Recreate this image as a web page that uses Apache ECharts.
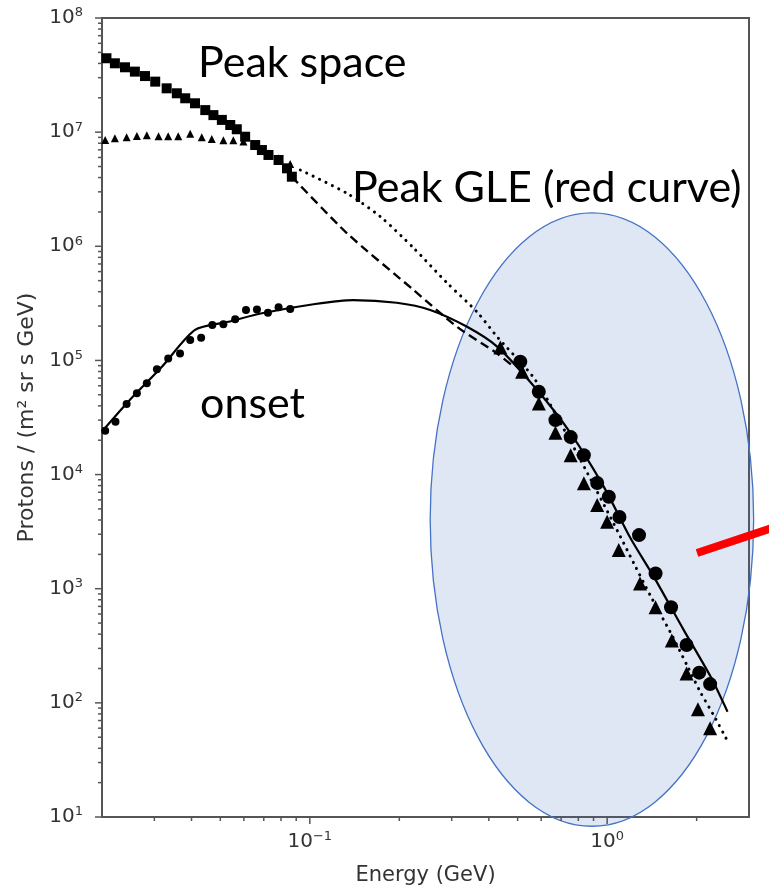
<!DOCTYPE html>
<html>
<head>
<meta charset="utf-8">
<title>Proton spectra</title>
<script src="https://cdn.jsdelivr.net/npm/echarts@6/dist/echarts.min.js"></script>
<style>
  html, body { margin: 0; padding: 0; background: #fff; }
  #chart { width: 769px; height: 894px; }
</style>
</head>
<body>
<div id="chart"></div>
<script>
// values: [energy (GeV), protons / (m2 sr s GeV)]
var peakSpaceSquares = [
  [0.0207, 4.44e7], [0.0221, 4.01e7], [0.0239, 3.70e7], [0.0258, 3.39e7],
  [0.0279, 3.10e7], [0.0302, 2.77e7], [0.0330, 2.42e7], [0.0357, 2.19e7],
  [0.0381, 1.98e7], [0.0411, 1.79e7], [0.0445, 1.56e7], [0.0474, 1.41e7],
  [0.0506, 1.28e7], [0.0540, 1.155e7], [0.0568, 1.06e7], [0.0606, 9.12e6],
  [0.0655, 7.71e6], [0.0690, 6.97e6], [0.0726, 6.31e6], [0.0785, 5.70e6],
  [0.0838, 4.82e6], [0.0870, 4.07e6]
];
var peakSpaceTriangles = [
  [0.0205, 8.53e6], [0.0221, 8.83e6], [0.0242, 9.0e6], [0.0262, 9.25e6],
  [0.0283, 9.37e6], [0.0310, 9.2e6], [0.0334, 9.2e6], [0.0361, 9.2e6],
  [0.0396, 9.7e6], [0.0433, 9.0e6], [0.0468, 8.7e6], [0.0512, 8.5e6],
  [0.0553, 8.5e6], [0.0598, 8.3e6], [0.0726, 6.5e6], [0.0785, 5.9e6],
  [0.0859, 5.26e6]
];
var onsetSpaceCircles = [
  [0.0205, 2.42e4], [0.0222, 2.9e4], [0.0242, 4.15e4], [0.0262, 5.15e4],
  [0.0283, 6.3e4], [0.0306, 8.36e4], [0.0334, 1.04e5], [0.0366, 1.15e5],
  [0.0396, 1.51e5], [0.0431, 1.58e5], [0.0470, 2.04e5], [0.0512, 2.07e5],
  [0.0561, 2.29e5], [0.0610, 2.77e5], [0.0664, 2.8e5], [0.0723, 2.62e5],
  [0.0785, 2.92e5], [0.0859, 2.82e5]
];
var peakGleTriangles = [
  [0.4375, 1.30e5], [0.5176, 7.96e4], [0.589, 4.2e4], [0.670, 2.33e4],
  [0.754, 1.48e4], [0.835, 8.4e3], [0.926, 5.4e3], [1.0, 3.86e3],
  [1.094, 2.18e3], [1.29, 1.11e3], [1.455, 687], [1.65, 351],
  [1.85, 181], [2.02, 87.7], [2.22, 59.8]
];
var onsetGleCircles = [
  [0.5105, 9.75e4], [0.589, 5.32e4], [0.670, 3.0e4], [0.754, 2.13e4],
  [0.835, 1.48e4], [0.926, 8.43e3], [1.013, 6.4e3], [1.10, 4.25e3],
  [1.28, 2.95e3], [1.455, 1.36e3], [1.64, 687], [1.85, 321],
  [2.04, 184], [2.22, 146]
];
var onsetFit = [
  [0.0202, 2.46e4], [0.0245, 4.35e4], [0.0318, 8.8e4], [0.0411, 1.85e5],
  [0.0532, 2.18e5], [0.069, 2.59e5], [0.1042, 3.12e5], [0.140, 3.38e5],
  [0.196, 3.2e5], [0.254, 2.77e5], [0.338, 1.97e5], [0.4266, 1.32e5],
  [0.5815, 5.5e4], [0.754, 2.3e4], [0.975, 7.8e3], [1.2, 2.75e3],
  [1.436, 1.27e3], [1.81, 434], [2.23, 169], [2.54, 83.6]
];
var peakSpaceFit = [
  [0.087, 4.07e6], [0.1334, 1.3e6], [0.2234, 4.14e5], [0.3126, 1.97e5],
  [0.4266, 1.15e5], [0.485, 8.8e4]
];
var peakGleFit = [
  [0.0929, 4.66e6], [0.1334, 2.91e6], [0.1726, 1.82e6], [0.2234, 9.66e5],
  [0.2896, 4.77e5], [0.365, 2.66e5], [0.4276, 1.6e5], [0.561, 7.3e4],
  [0.645, 4.07e4], [0.814, 1.34e4], [1.084, 3.2e3], [1.228, 1.68e3],
  [1.40, 863], [1.657, 385], [1.862, 210], [2.06, 124],
  [2.31, 73.6], [2.52, 48.2]
];

// axes
var xMin = 0.02, xMax = 3;
var yMin = 10, yMax = 1e8;
var xMajorTicks = [0.1, 1];
var xMinorTicks = [0.03, 0.04, 0.05, 0.06, 0.07, 0.08, 0.09,
                   0.2, 0.3, 0.4, 0.5, 0.6, 0.7, 0.8, 0.9, 2];
var yMajorTicks = [1e1, 1e2, 1e3, 1e4, 1e5, 1e6, 1e7, 1e8];
var yDecades = [1e1, 1e2, 1e3, 1e4, 1e5, 1e6, 1e7];
var minorSteps = [2, 3, 4, 5, 6, 7, 8, 9];
var yMinorTicks = [];
yDecades.forEach(function (d) {
  minorSteps.forEach(function (s) { yMinorTicks.push(d * s); });
});

var axisColor = '#555';
var labelColor = '#333';

// tick label as 10^n, blank for the axis ends
function powLabel(v) {
  var e = Math.log10(v), n = Math.round(e);
  if (Math.abs(e - n) > 1e-6) return '';
  return '{b|10}{s|' + (n < 0 ? '\u2212' + (-n) : n) + '}';
}
var tickRich = {
  b: { fontFamily: 'DejaVu Sans', fontSize: 20, color: labelColor },
  s: { fontFamily: 'DejaVu Sans', fontSize: 13, color: labelColor,
       verticalAlign: 'bottom', padding: [0, 0, 10, 0] }
};

// tick marks drawn through the axes' own scales
function tickSeries(values, onX, len) {
  return {
    type: 'custom',
    silent: true,
    z: 3,
    data: values.map(function (v) { return onX ? [v, yMin] : [xMin, v]; }),
    renderItem: function (params, api) {
      var p = api.coord([api.value(0), api.value(1)]);
      return {
        type: 'line',
        shape: onX ? { x1: p[0], y1: p[1], x2: p[0], y2: p[1] + len }
                   : { x1: p[0], y1: p[1], x2: p[0] - len, y2: p[1] },
        style: { stroke: axisColor, lineWidth: 1.5 }
      };
    }
  };
}

function markers(data, symbol, size) {
  return { type: 'scatter', data: data, symbol: symbol, symbolSize: size, z: 4,
           itemStyle: { color: '#000', opacity: 1 } };
}

var chart = echarts.init(document.getElementById('chart'));

var option = {
  animation: false,
  backgroundColor: '#fff',
  grid: {
    left: 102, right: 20, top: 18, bottom: 77,
    show: true, borderColor: axisColor, borderWidth: 2, backgroundColor: 'transparent'
  },
  xAxis: {
    type: 'log', logBase: 10, min: xMin, max: xMax,
    name: 'Energy (GeV)', nameLocation: 'middle', nameGap: 48,
    nameTextStyle: { fontFamily: 'DejaVu Sans', fontSize: 21, color: labelColor },
    axisLine: { show: false }, axisTick: { show: false },
    splitLine: { show: false }, minorTick: { show: false },
    axisLabel: { formatter: powLabel, rich: tickRich, margin: 13,
                 showMinLabel: true, showMaxLabel: true }
  },
  yAxis: {
    type: 'log', logBase: 10, min: yMin, max: yMax,
    name: 'Protons / (m\u00b2 sr s GeV)', nameLocation: 'middle', nameGap: 62,
    nameTextStyle: { fontFamily: 'DejaVu Sans', fontSize: 22, color: labelColor },
    axisLine: { show: false }, axisTick: { show: false },
    splitLine: { show: false },
    axisLabel: { formatter: powLabel, rich: tickRich, margin: 19 }
  },
  series: [
    tickSeries(xMajorTicks, true, 7),
    tickSeries(xMinorTicks, true, 4),
    tickSeries(yMajorTicks, false, 7),
    tickSeries(yMinorTicks, false, 4),
    { type: 'line', data: onsetFit, symbol: 'none', smooth: 0.25, z: 2,
      lineStyle: { color: '#000', width: 2.2, opacity: 1 } },
    { type: 'line', data: peakSpaceFit, symbol: 'none', smooth: 0.25, z: 2,
      lineStyle: { color: '#000', width: 2.4, type: [9, 5], opacity: 1 } },
    { type: 'line', data: peakGleFit, symbol: 'none', smooth: 0.25, z: 2,
      lineStyle: { color: '#000', width: 3, type: [0.1, 7], cap: 'round', opacity: 1 } },
    markers(peakSpaceTriangles, 'triangle', 8),
    markers(peakSpaceSquares, 'rect', 10),
    markers(onsetSpaceCircles, 'circle', 8),
    markers(peakGleTriangles, 'triangle', 14),
    markers(onsetGleCircles, 'circle', 14)
  ]
};
chart.setOption(option);

// highlighted region, given in data space
var ellipseBox = { left: 0.254, right: 3.11, top: 1.96e6, bottom: 8.3 };
var pa = chart.convertToPixel({ gridIndex: 0 }, [ellipseBox.left, ellipseBox.top]);
var pb = chart.convertToPixel({ gridIndex: 0 }, [ellipseBox.right, ellipseBox.bottom]);

var labelFont = '43px Lato';
chart.setOption({
  graphic: [
    { id: 'ellipse', type: 'ellipse', z: 1, silent: true,
      shape: { cx: (pa[0] + pb[0]) / 2, cy: (pa[1] + pb[1]) / 2,
               rx: Math.abs(pb[0] - pa[0]) / 2, ry: Math.abs(pb[1] - pa[1]) / 2 },
      style: { fill: 'rgba(68,114,196,0.17)', stroke: '#4472C4', lineWidth: 1.3 } },
    { id: 'arrow', type: 'line', z: 20, silent: true,
      shape: { x1: 697, y1: 553, x2: 772, y2: 528 },
      style: { stroke: '#ff0000', lineWidth: 8 } },
    { id: 't1', type: 'text', z: 20, silent: true,
      style: { text: 'Peak space', x: 198, y: 63, font: labelFont, fill: '#000',
               textAlign: 'left', textVerticalAlign: 'middle', align: 'left', verticalAlign: 'middle' } },
    { id: 't2', type: 'text', z: 20, silent: true,
      style: { text: 'Peak GLE (red curve)', x: 352, y: 188, font: labelFont, fill: '#000',
               textAlign: 'left', textVerticalAlign: 'middle', align: 'left', verticalAlign: 'middle' } },
    { id: 't3', type: 'text', z: 20, silent: true,
      style: { text: 'onset', x: 200, y: 404, font: labelFont, fill: '#000',
               textAlign: 'left', textVerticalAlign: 'middle', align: 'left', verticalAlign: 'middle' } }
  ]
});
</script>
</body>
</html>
